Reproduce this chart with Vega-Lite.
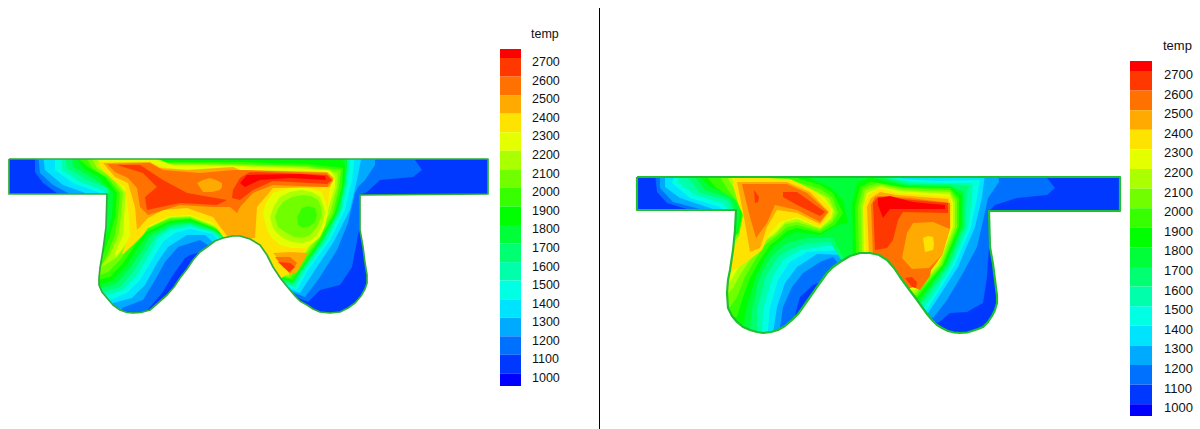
{"$schema":"https://vega.github.io/schema/vega-lite/v6.json","width":1200,"height":429,"padding":0,"autosize":"none","background":"white","view":{"stroke":null},
"projection":{"type":"identity","reflectY":false,"scale":1,"translate":[0,0]},
"layer":[
{"data":{"values":[
{"type":"Feature","temp":1100,"geometry":{"type":"Polygon","coordinates":[[[0,140],[495,140],[495,330],[0,330],[0,140]]]}},
{"type":"Feature","temp":1200,"geometry":{"type":"Polygon","coordinates":[[[35,155],[35,172],[43,183],[58,194],[60,200],[88,200],[88,320],[145,320],[145,313],[162,293],[173,275],[185,258],[190,255],[197,253],[230,270],[308,302],[320,290],[340,285],[352,267],[359,230],[360,195],[367,192],[380,180],[413,177],[422,170],[415,160],[415,155],[35,155]]]}},
{"type":"Feature","temp":1300,"geometry":{"type":"Polygon","coordinates":[[[38,155],[40,173],[53,185],[68,193],[70,200],[88,200],[88,320],[122,320],[122,308],[143,300],[155,280],[165,262],[178,247],[200,240],[208,245],[230,270],[305,297],[320,277],[337,250],[348,223],[355,193],[358,187],[365,180],[375,165],[375,155],[38,155]]]}},
{"type":"Feature","temp":1400,"geometry":{"type":"Polygon","coordinates":[[[43,155],[45,170],[63,185],[85,193],[88,200],[88,320],[113,320],[113,303],[132,298],[145,285],[157,263],[168,247],[187,235],[205,235],[216,245],[230,270],[300,293],[313,273],[333,243],[350,210],[357,180],[362,155],[43,155]]]}},
{"type":"Feature","temp":1500,"geometry":{"type":"Polygon","coordinates":[[[55,155],[55,170],[73,183],[100,193],[100,200],[88,200],[88,305],[110,305],[110,300],[127,293],[140,280],[152,260],[163,242],[175,233],[190,229],[213,234],[222,245],[230,270],[297,290],[308,270],[330,240],[345,210],[352,180],[355,155],[55,155]]]}},
{"type":"Feature","temp":1600,"geometry":{"type":"Polygon","coordinates":[[[62,155],[62,170],[80,182],[103,190],[107,195],[100,200],[88,200],[88,300],[100,300],[107,295],[123,290],[137,275],[148,257],[158,238],[170,230],[190,226],[213,233],[228,245],[235,270],[295,287],[305,270],[327,240],[342,210],[348,180],[350,155],[62,155]]]}},
{"type":"Feature","temp":1700,"geometry":{"type":"Polygon","coordinates":[[[65,155],[67,168],[87,180],[108,188],[108,197],[100,200],[88,200],[88,295],[96,295],[103,292],[120,287],[133,272],[145,253],[155,237],[170,227],[190,224],[213,231],[232,245],[240,270],[293,285],[302,270],[324,240],[340,210],[346,180],[347,155],[65,155]]]}},
{"type":"Feature","temp":1800,"geometry":{"type":"Polygon","coordinates":[[[72,155],[73,167],[93,178],[110,190],[107,197],[100,200],[88,200],[88,290],[96,290],[102,288],[117,283],[130,268],[142,250],[150,236],[170,225],[190,223],[213,230],[235,245],[245,270],[293,283],[302,270],[323,240],[338,213],[345,183],[347,167],[347,155],[72,155]]]}},
{"type":"Feature","temp":1900,"geometry":{"type":"Polygon","coordinates":[[[75,155],[83,168],[100,178],[113,193],[112,217],[108,230],[104,240],[88,250],[88,286],[100,285],[113,280],[127,265],[138,247],[148,234],[170,223],[190,221],[213,229],[238,245],[250,270],[292,281],[300,270],[321,240],[336,213],[344,183],[345,165],[340,155],[75,155]]]}},
{"type":"Feature","temp":2000,"geometry":{"type":"Polygon","coordinates":[[[80,155],[80,160],[88,167],[105,177],[117,193],[115,217],[110,235],[103,255],[92,265],[92,280],[98,280],[110,277],[123,263],[135,245],[146,232],[170,221],[190,219],[213,228],[241,245],[255,270],[292,280],[298,272],[320,240],[335,213],[342,187],[343,168],[307,164],[240,162],[165,162],[150,155],[80,155]]]}},
{"type":"Feature","temp":2100,"geometry":{"type":"Polygon","coordinates":[[[85,155],[92,168],[108,178],[120,193],[118,217],[115,235],[107,255],[102,265],[92,268],[92,275],[100,275],[108,272],[120,260],[132,243],[144,230],[170,219],[190,218],[213,227],[244,245],[260,270],[290,278],[296,270],[318,240],[333,213],[339,187],[341,170],[307,166],[240,164],[167,163],[150,155],[85,155]]]}},
{"type":"Feature","temp":2200,"geometry":{"type":"Polygon","coordinates":[[[90,155],[97,168],[112,178],[123,193],[121,217],[118,235],[110,255],[103,263],[101,267],[105,265],[117,257],[128,242],[142,229],[170,218],[190,217],[213,226],[247,245],[262,270],[288,276],[293,272],[315,240],[330,213],[337,187],[338,173],[307,167],[240,165],[170,164],[155,158],[148,155],[90,155]]]}},
{"type":"Feature","temp":2300,"geometry":{"type":"Polygon","coordinates":[[[95,155],[102,167],[114,178],[126,193],[124,217],[123,235],[115,253],[116,257],[125,245],[135,233],[150,227],[170,217],[190,216],[213,225],[250,245],[265,270],[290,274],[313,240],[327,213],[335,187],[335,177],[330,170],[290,168],[240,166],[173,165],[157,160],[150,155],[95,155]]]}},
{"type":"Feature","temp":2400,"geometry":{"type":"Polygon","coordinates":[[[100,162],[153,163],[167,168],[193,170],[233,168],[240,170],[327,173],[333,180],[330,187],[327,213],[311,242],[290,272],[250,300],[227,242],[213,223],[190,215],[170,216],[150,225],[143,235],[133,245],[123,254],[122,253],[130,235],[129,217],[125,187],[113,180],[98,165],[100,162]]]}},
{"type":"Feature","temp":2300,"geometry":{"type":"Polygon","coordinates":[[[263,213],[266,203],[273,193],[286,189],[300,187],[312,189],[322,192],[326,202],[328,213],[325,226],[320,237],[313,243],[305,248],[292,248],[280,245],[272,238],[267,230],[263,213]]]}},
{"type":"Feature","temp":2200,"geometry":{"type":"Polygon","coordinates":[[[270,217],[274,206],[280,197],[290,192],[302,190],[312,192],[320,197],[323,205],[325,213],[322,225],[317,235],[311,240],[303,243],[292,242],[283,238],[277,233],[273,228],[270,217]]]}},
{"type":"Feature","temp":2100,"geometry":{"type":"Polygon","coordinates":[[[275,217],[278,209],[283,202],[292,197],[303,195],[311,196],[318,200],[321,207],[322,215],[318,225],[313,232],[308,236],[302,238],[294,237],[287,233],[282,230],[278,227],[275,217]]]}},
{"type":"Feature","temp":2000,"geometry":{"type":"Polygon","coordinates":[[[297,217],[302,208],[308,206],[315,208],[317,215],[315,222],[310,226],[303,228],[298,225],[297,217]]]}},
{"type":"Feature","temp":2500,"geometry":{"type":"Polygon","coordinates":[[[103,163],[150,162],[160,168],[187,170],[233,167],[240,170],[327,172],[334,178],[330,187],[273,188],[257,207],[255,238],[230,240],[213,217],[187,208],[163,210],[148,218],[137,230],[135,207],[128,183],[115,177],[103,163]]]}},
{"type":"Feature","temp":2500,"geometry":{"type":"Polygon","coordinates":[[[273,253],[290,252],[308,253],[297,272],[290,275],[282,263],[273,253]]]}},
{"type":"Feature","temp":2600,"geometry":{"type":"Polygon","coordinates":[[[107,164],[150,163],[163,170],[200,173],[233,170],[240,170],[327,173],[333,180],[327,187],[273,185],[253,193],[240,207],[237,213],[230,207],[213,207],[180,205],[148,215],[140,207],[137,188],[128,178],[115,172],[107,164]]]}},
{"type":"Feature","temp":2600,"geometry":{"type":"Polygon","coordinates":[[[275,257],[290,257],[297,263],[290,273],[283,267],[275,257]]]}},
{"type":"Feature","temp":2500,"geometry":{"type":"Polygon","coordinates":[[[197,183],[203,180],[210,178],[216,180],[222,183],[222,187],[220,190],[212,192],[203,192],[197,183]]]}},
{"type":"Feature","temp":2700,"geometry":{"type":"Polygon","coordinates":[[[117,165],[140,165],[163,180],[187,193],[227,200],[217,205],[180,203],[147,210],[145,197],[157,187],[143,173],[117,165]]]}},
{"type":"Feature","temp":2700,"geometry":{"type":"Polygon","coordinates":[[[233,190],[240,178],[250,172],[283,173],[327,175],[332,180],[327,184],[273,181],[253,190],[240,200],[232,198],[233,190]]]}},
{"type":"Feature","temp":2700,"geometry":{"type":"Polygon","coordinates":[[[278,262],[290,263],[295,267],[289,272],[278,262]]]}},
{"type":"Feature","temp":2800,"geometry":{"type":"Polygon","coordinates":[[[240,183],[247,175],[300,174],[325,176],[326,180],[290,178],[260,180],[245,187],[240,183]]]}},

{"type":"Feature","temp":1100,"geometry":{"type":"Polygon","coordinates":[[[625,165],[1125,165],[1125,345],[625,345],[625,165]]]}},
{"type":"Feature","temp":1200,"geometry":{"type":"Polygon","coordinates":[[[655,174],[657,192],[667,203],[687,209],[690,215],[720,215],[720,340],[795,340],[795,315],[800,297],[813,285],[818,283],[860,290],[938,323],[950,313],[967,312],[983,303],[987,277],[989,247],[989,211],[995,205],[1017,198],[1047,195],[1055,188],[1047,178],[1047,174],[655,174]]]}},
{"type":"Feature","temp":1300,"geometry":{"type":"Polygon","coordinates":[[[660,174],[660,188],[673,202],[700,209],[703,215],[720,215],[720,340],[778,340],[783,307],[792,287],[803,273],[820,262],[833,257],[860,290],[933,318],[947,300],[963,273],[977,247],[985,212],[988,198],[999,182],[998,174],[660,174]]]}},
{"type":"Feature","temp":1400,"geometry":{"type":"Polygon","coordinates":[[[665,174],[665,187],[680,198],[713,209],[715,215],[720,340],[772,340],[777,307],[785,283],[797,267],[817,254],[843,255],[860,290],[928,313],[938,298],[958,267],[975,227],[982,197],[985,174],[665,174]]]}},
{"type":"Feature","temp":1500,"geometry":{"type":"Polygon","coordinates":[[[675,174],[672,183],[690,198],[720,207],[725,213],[720,340],[767,340],[770,308],[778,280],[790,262],[807,252],[843,250],[860,290],[927,310],[935,297],[955,265],[971,227],[977,197],[980,180],[937,181],[903,179],[890,174],[675,174]]]}},
{"type":"Feature","temp":1600,"geometry":{"type":"Polygon","coordinates":[[[680,174],[678,182],[695,195],[723,203],[730,212],[722,215],[720,340],[762,340],[763,310],[772,278],[783,260],[800,250],[833,245],[860,290],[924,307],[932,297],[952,265],[968,227],[972,197],[973,183],[953,183],[913,182],[893,178],[888,174],[680,174]]]}},
{"type":"Feature","temp":1700,"geometry":{"type":"Polygon","coordinates":[[[685,174],[700,193],[727,200],[735,212],[722,215],[720,340],[757,340],[757,310],[765,278],[777,258],[788,250],[807,243],[830,242],[860,290],[922,303],[929,295],[949,265],[965,227],[967,190],[970,186],[950,184],[913,184],[887,178],[885,174],[685,174]]]}},
{"type":"Feature","temp":1800,"geometry":{"type":"Polygon","coordinates":[[[693,174],[705,190],[730,198],[735,212],[722,215],[720,340],[750,340],[750,328],[752,310],[759,278],[770,258],[778,250],[787,243],[807,238],[833,238],[860,290],[921,302],[927,293],[947,265],[963,227],[964,192],[950,186],[907,185],[883,178],[880,174],[693,174]]]}},
{"type":"Feature","temp":1900,"geometry":{"type":"Polygon","coordinates":[[[697,174],[710,187],[732,195],[740,208],[738,227],[730,250],[720,280],[720,325],[743,325],[747,307],[755,278],[765,258],[773,247],[787,236],[797,232],[820,235],[838,225],[848,223],[843,200],[830,187],[813,180],[810,174],[697,174]]]}},
{"type":"Feature","temp":1900,"geometry":{"type":"Polygon","coordinates":[[[853,256],[852,203],[857,183],[870,177],[880,180],[907,186],[950,187],[962,195],[961,227],[945,265],[925,292],[919,300],[880,300],[853,256]]]}},
{"type":"Feature","temp":2000,"geometry":{"type":"Polygon","coordinates":[[[705,174],[715,187],[735,200],[742,213],[738,235],[728,255],[720,280],[720,317],[737,317],[742,300],[750,278],[760,260],[770,245],[777,240],[787,231],[797,228],[820,233],[835,225],[843,213],[833,193],[820,185],[797,178],[760,174],[705,174]]]}},
{"type":"Feature","temp":2000,"geometry":{"type":"Polygon","coordinates":[[[856,256],[855,207],[860,187],[870,182],[873,182],[903,187],[950,188],[959,198],[959,227],[943,265],[923,290],[918,297],[880,300],[856,256]]]}},
{"type":"Feature","temp":2100,"geometry":{"type":"Polygon","coordinates":[[[718,174],[728,190],[740,205],[745,215],[740,232],[722,245],[722,307],[730,307],[737,297],[745,277],[755,260],[765,245],[777,236],[787,227],[797,225],[820,231],[833,222],[838,213],[832,197],[820,189],[797,182],[770,178],[740,174],[718,174]]]}},
{"type":"Feature","temp":2100,"geometry":{"type":"Polygon","coordinates":[[[859,256],[858,207],[863,188],[877,183],[903,188],[950,190],[957,200],[957,227],[942,265],[922,288],[917,295],[880,300],[859,256]]]}},
{"type":"Feature","temp":2200,"geometry":{"type":"Polygon","coordinates":[[[725,174],[735,190],[741,200],[748,215],[743,232],[728,247],[724,293],[728,293],[733,288],[740,275],[750,260],[762,243],[775,235],[785,224],[797,222],[820,229],[832,220],[835,212],[829,198],[818,192],[797,185],[775,180],[750,176],[725,174]]]}},
{"type":"Feature","temp":2200,"geometry":{"type":"Polygon","coordinates":[[[862,256],[861,207],[865,190],[880,185],[903,190],[950,192],[955,202],[955,227],[940,265],[920,287],[916,293],[880,300],[862,256]]]}},
{"type":"Feature","temp":2300,"geometry":{"type":"Polygon","coordinates":[[[730,174],[738,190],[742,200],[750,215],[745,233],[732,250],[724,285],[730,282],[737,270],[743,260],[758,245],[768,238],[776,232],[785,222],[797,219],[820,228],[831,218],[833,210],[825,198],[815,192],[795,183],[775,179],[750,176],[730,174]]]}},
{"type":"Feature","temp":2300,"geometry":{"type":"Polygon","coordinates":[[[864,256],[863,207],[867,193],[880,187],[900,191],[950,194],[953,203],[953,227],[938,265],[919,285],[915,290],[880,300],[864,256]]]}},
{"type":"Feature","temp":2400,"geometry":{"type":"Polygon","coordinates":[[[735,177],[790,179],[813,190],[831,208],[830,216],[820,227],[797,217],[780,222],[770,233],[762,250],[752,258],[742,265],[731,272],[731,252],[738,240],[743,215],[738,203],[733,185],[735,177]]]}},
{"type":"Feature","temp":2400,"geometry":{"type":"Polygon","coordinates":[[[866,256],[864,207],[868,195],[880,188],[897,193],[950,197],[952,205],[951,227],[937,265],[918,283],[913,287],[880,300],[866,256]]]}},
{"type":"Feature","temp":2500,"geometry":{"type":"Polygon","coordinates":[[[737,182],[787,182],[810,192],[829,212],[820,224],[797,213],[777,210],[767,227],[760,248],[750,252],[745,223],[740,197],[737,182]]]}},
{"type":"Feature","temp":2500,"geometry":{"type":"Polygon","coordinates":[[[869,256],[867,207],[871,198],[880,192],[897,195],[948,199],[950,207],[948,227],[933,265],[917,282],[912,285],[880,300],[869,256]]]}},
{"type":"Feature","temp":2600,"geometry":{"type":"Polygon","coordinates":[[[742,184],[787,184],[807,193],[828,212],[820,222],[797,210],[775,205],[767,223],[756,238],[750,217],[745,197],[742,184]]]}},
{"type":"Feature","temp":2600,"geometry":{"type":"Polygon","coordinates":[[[873,256],[871,205],[875,197],[880,196],[910,198],[950,203],[950,228],[942,255],[931,270],[930,276],[920,290],[913,287],[880,300],[873,256]]]}},
{"type":"Feature","temp":2500,"geometry":{"type":"Polygon","coordinates":[[[950,229],[933,222],[913,223],[907,233],[902,258],[912,269],[929,268],[942,255],[950,229]]]}},
{"type":"Feature","temp":2400,"geometry":{"type":"Polygon","coordinates":[[[923,238],[928,236],[933,237],[934,244],[933,250],[925,252],[923,238]]]}},
{"type":"Feature","temp":2700,"geometry":{"type":"Polygon","coordinates":[[[783,192],[797,192],[825,212],[820,216],[797,205],[783,197],[783,192]]]}},
{"type":"Feature","temp":2700,"geometry":{"type":"Polygon","coordinates":[[[754,190],[759,197],[758,202],[755,203],[754,190]]]}},
{"type":"Feature","temp":2700,"geometry":{"type":"Polygon","coordinates":[[[873,203],[878,197],[913,200],[948,203],[948,213],[903,212],[898,220],[893,240],[887,248],[875,250],[873,203]]]}},
{"type":"Feature","temp":2700,"geometry":{"type":"Polygon","coordinates":[[[905,278],[912,277],[917,282],[916,288],[912,287],[905,278]]]}},
{"type":"Feature","temp":2800,"geometry":{"type":"Polygon","coordinates":[[[878,198],[890,196],[913,202],[945,205],[945,209],[890,209],[883,218],[878,205],[878,198]]]}},

{"type":"Feature","temp":2800,"geometry":{"type":"Polygon","coordinates":[[[500,49],[521,49],[521,58],[500,58],[500,49]]]}},
{"type":"Feature","temp":2700,"geometry":{"type":"Polygon","coordinates":[[[500,58],[521,58],[521,76.6],[500,76.6],[500,58]]]}},
{"type":"Feature","temp":2600,"geometry":{"type":"Polygon","coordinates":[[[500,76.6],[521,76.6],[521,95.1],[500,95.1],[500,76.6]]]}},
{"type":"Feature","temp":2500,"geometry":{"type":"Polygon","coordinates":[[[500,95.1],[521,95.1],[521,113.7],[500,113.7],[500,95.1]]]}},
{"type":"Feature","temp":2400,"geometry":{"type":"Polygon","coordinates":[[[500,113.7],[521,113.7],[521,132.2],[500,132.2],[500,113.7]]]}},
{"type":"Feature","temp":2300,"geometry":{"type":"Polygon","coordinates":[[[500,132.2],[521,132.2],[521,150.8],[500,150.8],[500,132.2]]]}},
{"type":"Feature","temp":2200,"geometry":{"type":"Polygon","coordinates":[[[500,150.8],[521,150.8],[521,169.3],[500,169.3],[500,150.8]]]}},
{"type":"Feature","temp":2100,"geometry":{"type":"Polygon","coordinates":[[[500,169.3],[521,169.3],[521,187.9],[500,187.9],[500,169.3]]]}},
{"type":"Feature","temp":2000,"geometry":{"type":"Polygon","coordinates":[[[500,187.9],[521,187.9],[521,206.4],[500,206.4],[500,187.9]]]}},
{"type":"Feature","temp":1900,"geometry":{"type":"Polygon","coordinates":[[[500,206.4],[521,206.4],[521,225],[500,225],[500,206.4]]]}},
{"type":"Feature","temp":1800,"geometry":{"type":"Polygon","coordinates":[[[500,225],[521,225],[521,243.5],[500,243.5],[500,225]]]}},
{"type":"Feature","temp":1700,"geometry":{"type":"Polygon","coordinates":[[[500,243.5],[521,243.5],[521,262.1],[500,262.1],[500,243.5]]]}},
{"type":"Feature","temp":1600,"geometry":{"type":"Polygon","coordinates":[[[500,262.1],[521,262.1],[521,280.6],[500,280.6],[500,262.1]]]}},
{"type":"Feature","temp":1500,"geometry":{"type":"Polygon","coordinates":[[[500,280.6],[521,280.6],[521,299.2],[500,299.2],[500,280.6]]]}},
{"type":"Feature","temp":1400,"geometry":{"type":"Polygon","coordinates":[[[500,299.2],[521,299.2],[521,317.7],[500,317.7],[500,299.2]]]}},
{"type":"Feature","temp":1300,"geometry":{"type":"Polygon","coordinates":[[[500,317.7],[521,317.7],[521,336.3],[500,336.3],[500,317.7]]]}},
{"type":"Feature","temp":1200,"geometry":{"type":"Polygon","coordinates":[[[500,336.3],[521,336.3],[521,354.8],[500,354.8],[500,336.3]]]}},
{"type":"Feature","temp":1100,"geometry":{"type":"Polygon","coordinates":[[[500,354.8],[521,354.8],[521,373.4],[500,373.4],[500,354.8]]]}},
{"type":"Feature","temp":1000,"geometry":{"type":"Polygon","coordinates":[[[500,373.4],[521,373.4],[521,386],[500,386],[500,373.4]]]}},

{"type":"Feature","temp":2800,"geometry":{"type":"Polygon","coordinates":[[[1130,61],[1152,61],[1152,71],[1130,71],[1130,61]]]}},
{"type":"Feature","temp":2700,"geometry":{"type":"Polygon","coordinates":[[[1130,71],[1152,71],[1152,90.6],[1130,90.6],[1130,71]]]}},
{"type":"Feature","temp":2600,"geometry":{"type":"Polygon","coordinates":[[[1130,90.6],[1152,90.6],[1152,110.2],[1130,110.2],[1130,90.6]]]}},
{"type":"Feature","temp":2500,"geometry":{"type":"Polygon","coordinates":[[[1130,110.2],[1152,110.2],[1152,129.8],[1130,129.8],[1130,110.2]]]}},
{"type":"Feature","temp":2400,"geometry":{"type":"Polygon","coordinates":[[[1130,129.8],[1152,129.8],[1152,149.4],[1130,149.4],[1130,129.8]]]}},
{"type":"Feature","temp":2300,"geometry":{"type":"Polygon","coordinates":[[[1130,149.4],[1152,149.4],[1152,169],[1130,169],[1130,149.4]]]}},
{"type":"Feature","temp":2200,"geometry":{"type":"Polygon","coordinates":[[[1130,169],[1152,169],[1152,188.6],[1130,188.6],[1130,169]]]}},
{"type":"Feature","temp":2100,"geometry":{"type":"Polygon","coordinates":[[[1130,188.6],[1152,188.6],[1152,208.2],[1130,208.2],[1130,188.6]]]}},
{"type":"Feature","temp":2000,"geometry":{"type":"Polygon","coordinates":[[[1130,208.2],[1152,208.2],[1152,227.8],[1130,227.8],[1130,208.2]]]}},
{"type":"Feature","temp":1900,"geometry":{"type":"Polygon","coordinates":[[[1130,227.8],[1152,227.8],[1152,247.4],[1130,247.4],[1130,227.8]]]}},
{"type":"Feature","temp":1800,"geometry":{"type":"Polygon","coordinates":[[[1130,247.4],[1152,247.4],[1152,267],[1130,267],[1130,247.4]]]}},
{"type":"Feature","temp":1700,"geometry":{"type":"Polygon","coordinates":[[[1130,267],[1152,267],[1152,286.6],[1130,286.6],[1130,267]]]}},
{"type":"Feature","temp":1600,"geometry":{"type":"Polygon","coordinates":[[[1130,286.6],[1152,286.6],[1152,306.2],[1130,306.2],[1130,286.6]]]}},
{"type":"Feature","temp":1500,"geometry":{"type":"Polygon","coordinates":[[[1130,306.2],[1152,306.2],[1152,325.8],[1130,325.8],[1130,306.2]]]}},
{"type":"Feature","temp":1400,"geometry":{"type":"Polygon","coordinates":[[[1130,325.8],[1152,325.8],[1152,345.4],[1130,345.4],[1130,325.8]]]}},
{"type":"Feature","temp":1300,"geometry":{"type":"Polygon","coordinates":[[[1130,345.4],[1152,345.4],[1152,365],[1130,365],[1130,345.4]]]}},
{"type":"Feature","temp":1200,"geometry":{"type":"Polygon","coordinates":[[[1130,365],[1152,365],[1152,384.6],[1130,384.6],[1130,365]]]}},
{"type":"Feature","temp":1100,"geometry":{"type":"Polygon","coordinates":[[[1130,384.6],[1152,384.6],[1152,404.2],[1130,404.2],[1130,384.6]]]}},
{"type":"Feature","temp":1000,"geometry":{"type":"Polygon","coordinates":[[[1130,404.2],[1152,404.2],[1152,416],[1130,416],[1130,404.2]]]}}
]},
"mark":{"type":"geoshape","strokeWidth":0},
"encoding":{"color":{"field":"temp","type":"ordinal","legend":null,"scale":{"domain":[1000,1100,1200,1300,1400,1500,1600,1700,1800,1900,2000,2100,2200,2300,2400,2500,2600,2700,2800],"range":["#0000ff","#0038ff","#0071ff","#00aaff","#00e3ff","#00ffe3","#00ffaa","#00ff71","#00ff38","#00ff00","#38ff00","#71ff00","#aaff00","#e3ff00","#ffe300","#ffaa00","#ff7100","#ff3800","#ff0000"]}}}},
{"data":{"values":[
{"type":"Feature","geometry":{"type":"Polygon","coordinates":[[[0,140],[495,140],[495,330],[0,330],[0,140]],[[9,159],[9,194],[107,194],[106,227],[103,250],[100,268],[99,278],[99,285],[102,292],[107,298],[113,305],[120,310],[127,312.5],[133,313],[141,312.5],[150,310],[158,303],[167,295],[174,287],[180,278],[187,269],[193,260],[200,252],[207,247],[215,241],[223,238],[233,236],[240,236],[250,239],[260,245],[267,255],[273,267],[281,279],[290,290],[295,296],[300,301],[307,305],[313,309],[320,312],[330,313],[340,312],[348,308],[355,303],[361,296],[365,289],[367,283],[367,275],[365,263],[363,247],[360,230],[360,195],[488,194],[488,159],[9,159]]]}},
{"type":"Feature","geometry":{"type":"Polygon","coordinates":[[[625,165],[1125,165],[1125,345],[625,345],[625,165]],[[637,177],[637,210],[736,210],[735,230],[733,250],[730,270],[728,280],[727,293],[728,308],[732,316],[737,322],[743,327],[750,330],[757,332],[763,333],[771,332],[778,330],[785,326],[792,320],[798,314],[803,307],[810,297],[817,287],[822,280],[827,273],[833,267],[840,262],[850,256],[860,253],[870,253],[879,255],[887,260],[894,268],[900,277],[908,288],[917,300],[922,307],[927,314],[932,320],[937,325],[942,328],[948,331],[954,332.5],[960,333],[967,332.5],[972,331],[978,329],[983,327],[988,322],[992,316],[995,310],[997,303],[997,296],[996,288],[995,280],[993,264],[990,247],[989,211],[1120,211],[1120,177],[637,177]]]}}
]},"mark":{"type":"geoshape","fill":"white","strokeWidth":0}},
{"data":{"values":[
{"type":"Feature","side":"left","geometry":{"type":"LineString","coordinates":[[9,159],[9,194],[107,194],[106,227],[103,250],[100,268],[99,278],[99,285],[102,292],[107,298],[113,305],[120,310],[127,312.5],[133,313],[141,312.5],[150,310],[158,303],[167,295],[174,287],[180,278],[187,269],[193,260],[200,252],[207,247],[215,241],[223,238],[233,236],[240,236],[250,239],[260,245],[267,255],[273,267],[281,279],[290,290],[295,296],[300,301],[307,305],[313,309],[320,312],[330,313],[340,312],[348,308],[355,303],[361,296],[365,289],[367,283],[367,275],[365,263],[363,247],[360,230],[360,195],[488,194],[488,159],[9,159]]}},
{"type":"Feature","side":"right","geometry":{"type":"LineString","coordinates":[[637,177],[637,210],[736,210],[735,230],[733,250],[730,270],[728,280],[727,293],[728,308],[732,316],[737,322],[743,327],[750,330],[757,332],[763,333],[771,332],[778,330],[785,326],[792,320],[798,314],[803,307],[810,297],[817,287],[822,280],[827,273],[833,267],[840,262],[850,256],[860,253],[870,253],[879,255],[887,260],[894,268],[900,277],[908,288],[917,300],[922,307],[927,314],[932,320],[937,325],[942,328],[948,331],[954,332.5],[960,333],[967,332.5],[972,331],[978,329],[983,327],[988,322],[992,316],[995,310],[997,303],[997,296],[996,288],[995,280],[993,264],[990,247],[989,211],[1120,211],[1120,177],[637,177]]}}
]},"mark":{"type":"geoshape","filled":false,"fill":null,"strokeJoin":"round"},"encoding":{"stroke":{"field":"side","type":"nominal","legend":null,"scale":{"domain":["left","right"],"range":["#2fae3c","#1fc02f"]}},"strokeWidth":{"field":"side","type":"nominal","legend":null,"scale":{"domain":["left","right"],"range":[1.7,2.2]}}}},
{"data":{"values":[{"type":"Feature","geometry":{"type":"LineString","coordinates":[[599.5,8],[599.5,429]]}}]},"mark":{"type":"geoshape","filled":false,"fill":null,"stroke":"#000000","strokeWidth":1}},
{"data":{"values":[
{"label":"temp","lon":531,"lat":34,"size":12.5},
{"label":"2700","lon":532,"lat":62,"size":12.5},{"label":"2600","lon":532,"lat":80.6,"size":12.5},{"label":"2500","lon":532,"lat":99.2,"size":12.5},{"label":"2400","lon":532,"lat":117.8,"size":12.5},{"label":"2300","lon":532,"lat":136.4,"size":12.5},{"label":"2200","lon":532,"lat":155,"size":12.5},{"label":"2100","lon":532,"lat":173.5,"size":12.5},{"label":"2000","lon":532,"lat":192.1,"size":12.5},{"label":"1900","lon":532,"lat":210.7,"size":12.5},{"label":"1800","lon":532,"lat":229.3,"size":12.5},{"label":"1700","lon":532,"lat":247.9,"size":12.5},{"label":"1600","lon":532,"lat":266.5,"size":12.5},{"label":"1500","lon":532,"lat":285.1,"size":12.5},{"label":"1400","lon":532,"lat":303.6,"size":12.5},{"label":"1300","lon":532,"lat":322.2,"size":12.5},{"label":"1200","lon":532,"lat":340.8,"size":12.5},{"label":"1100","lon":532,"lat":359.4,"size":12.5},{"label":"1000","lon":532,"lat":378,"size":12.5},
{"label":"temp","lon":1163,"lat":46,"size":13},
{"label":"2700","lon":1164,"lat":75,"size":13},{"label":"2600","lon":1164,"lat":94.6,"size":13},{"label":"2500","lon":1164,"lat":114.2,"size":13},{"label":"2400","lon":1164,"lat":133.8,"size":13},{"label":"2300","lon":1164,"lat":153.4,"size":13},{"label":"2200","lon":1164,"lat":173,"size":13},{"label":"2100","lon":1164,"lat":192.6,"size":13},{"label":"2000","lon":1164,"lat":212.2,"size":13},{"label":"1900","lon":1164,"lat":231.8,"size":13},{"label":"1800","lon":1164,"lat":251.4,"size":13},{"label":"1700","lon":1164,"lat":271,"size":13},{"label":"1600","lon":1164,"lat":290.6,"size":13},{"label":"1500","lon":1164,"lat":310.2,"size":13},{"label":"1400","lon":1164,"lat":329.8,"size":13},{"label":"1300","lon":1164,"lat":349.4,"size":13},{"label":"1200","lon":1164,"lat":369,"size":13},{"label":"1100","lon":1164,"lat":388.6,"size":13},{"label":"1000","lon":1164,"lat":408.2,"size":13}
]},"mark":{"type":"text","align":"left","baseline":"middle","font":"Liberation Sans","color":"#111111"},"encoding":{"longitude":{"field":"lon","type":"quantitative"},"latitude":{"field":"lat","type":"quantitative"},"text":{"field":"label","type":"nominal"},"size":{"field":"size","type":"quantitative","scale":null}}}
]}
